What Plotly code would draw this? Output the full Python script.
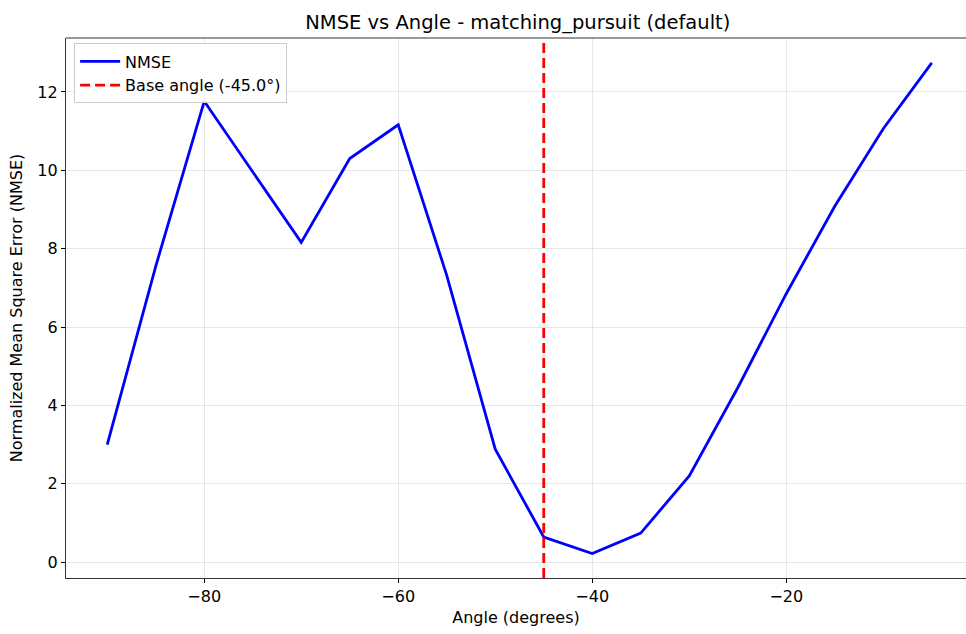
import plotly.graph_objects as go

angles = [-90, -85, -80, -75, -70, -65, -60, -55, -50, -45, -40, -35, -30, -25, -20, -15, -10, -5]
nmse = [3.0, 7.55, 11.76, 9.95, 8.16, 10.30, 11.16, 7.32, 2.88, 0.64, 0.22, 0.74, 2.20, 4.45, 6.85, 9.08, 11.06, 12.74]
base_angle = -45.0

x_range = [-94.25, -1.47]
y_range = [-0.406, 13.376]

FONT = "DejaVu Sans, Liberation Sans, sans-serif"

fig = go.Figure()
fig.add_trace(go.Scatter(
    x=angles, y=nmse, mode="lines", name="NMSE",
    line=dict(color="#0000ff", width=2.8),
))
fig.add_trace(go.Scatter(
    x=[base_angle, base_angle], y=y_range, mode="lines",
    name=f"Base angle ({base_angle:.1f}°)",
    line=dict(color="#ff0000", width=2.8, dash="10px,5px"),
))

axis_common = dict(
    showgrid=True, gridcolor="rgba(176,176,176,0.3)", gridwidth=1,
    ticks="outside", ticklen=4, tickwidth=1, tickcolor="#000",
    showline=True, linecolor="#333", linewidth=1.2,
    zeroline=False,
    tickfont=dict(family=FONT, size=16, color="#000"),
)

# top spine (matplotlib frame; right spine is outside the cropped picture)
fig.add_shape(type="line", xref="paper", yref="paper", x0=0, x1=1, y0=1, y1=1,
              line=dict(color="#333", width=1.2), layer="above")

fig.update_layout(
    width=966, height=634,
    margin=dict(l=66, r=0, t=38, b=56),
    paper_bgcolor="white", plot_bgcolor="white",
    title=dict(text="NMSE vs Angle - matching_pursuit (default)",
               x=0.536, xanchor="center", y=0.965, yanchor="middle",
               font=dict(family=FONT, size=19.5, color="#000")),
    xaxis=dict(range=x_range, dtick=20, tick0=0,
               title=dict(text="Angle (degrees)", standoff=6,
                          font=dict(family=FONT, size=16, color="#000")),
               **axis_common),
    yaxis=dict(range=y_range, dtick=2, tick0=0,
               title=dict(text="Normalized Mean Square Error (NMSE)", standoff=10,
                          font=dict(family=FONT, size=16, color="#000")),
               **axis_common),
    legend=dict(x=0.009, y=0.99, xanchor="left", yanchor="top",
                bgcolor="rgba(255,255,255,0.85)", bordercolor="#cccccc", borderwidth=1,
                font=dict(family=FONT, size=16, color="#000"),
                itemwidth=40),
    showlegend=True,
)

fig.write_html("out.html")
